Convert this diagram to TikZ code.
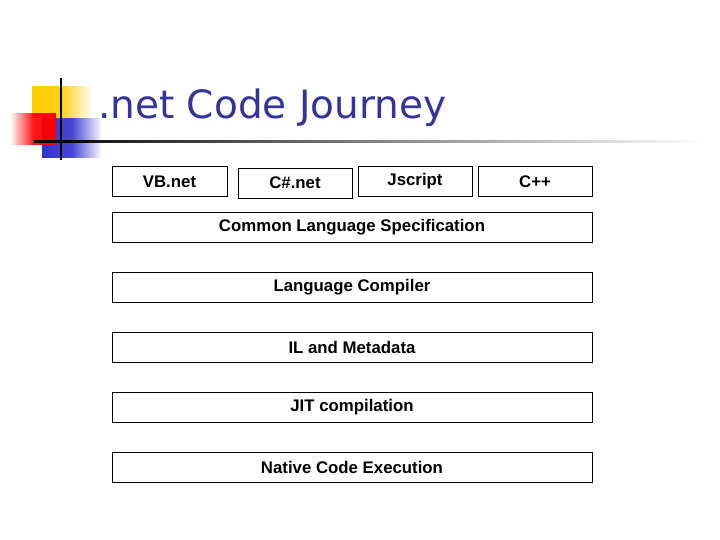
\documentclass[tikz,border=0pt]{standalone}
\usepackage{fontspec}
\setmainfont{Liberation Sans}
\newfontfamily\titlefont{DejaVu Sans}
\usetikzlibrary{fadings}
\definecolor{ttl}{HTML}{333399}
\definecolor{yel}{HTML}{FFCC00}
\definecolor{blu}{HTML}{3333CC}
\tikzfading[name=fadeR, left color=transparent!0, right color=transparent!100, middle color=transparent!10]
\tikzfading[name=fadeL, right color=transparent!0, left color=transparent!100, middle color=transparent!10]
\tikzset{box/.style={draw,line width=1.4pt,minimum height=30pt,inner sep=0pt},
 lbl/.style={font=\bfseries\fontsize{16.8pt}{19pt}\selectfont}}
\begin{document}
\begin{tikzpicture}[x=1pt,y=-1pt]
\useasboundingbox (0,0) rectangle (720,540);
\fill[yel,path fading=fadeR] (32,86) rectangle (92,118);
\fill[blu,path fading=fadeR] (42,118) rectangle (102,158);
\fill[red,path fading=fadeL] (10,113) rectangle (56,145);
\fill[black,path fading=east] (34,140) rectangle (700,142.8);
\draw[line width=2pt] (61,78) -- (61,160);
\node[anchor=base west,inner sep=0pt,text=ttl,font=\titlefont\fontsize{39pt}{42pt}\selectfont] (t) at (98,119) {.net Code Journey};
\node[box,minimum width=115pt,anchor=north west] (vb) at (112,166) {};
\node[box,minimum width=114pt,anchor=north west] (cs) at (238,168) {};
\node[box,minimum width=114pt,anchor=north west] (js) at (358,166) {};
\node[box,minimum width=114pt,anchor=north west] (cp) at (478,166) {};
\node[lbl] at (169.5,181.5) {VB.net};
\node[lbl] at (295,182.5) {C\#.net};
\node[lbl] at (415,181.5) {Jscript};
\node[lbl] at (535,181.5) {C++};
\foreach \n/\y/\t in {cls/212/Common Language Specification,lc/272/Language Compiler,il/332/IL and Metadata,jit/392/JIT compilation,nce/452/Native Code Execution}{
 \node[box,minimum width=480pt,anchor=north west] (\n) at (112,\y) {};
 \node[lbl] at (352,\y+15.5) {\t};
}
\end{tikzpicture}
\end{document}
